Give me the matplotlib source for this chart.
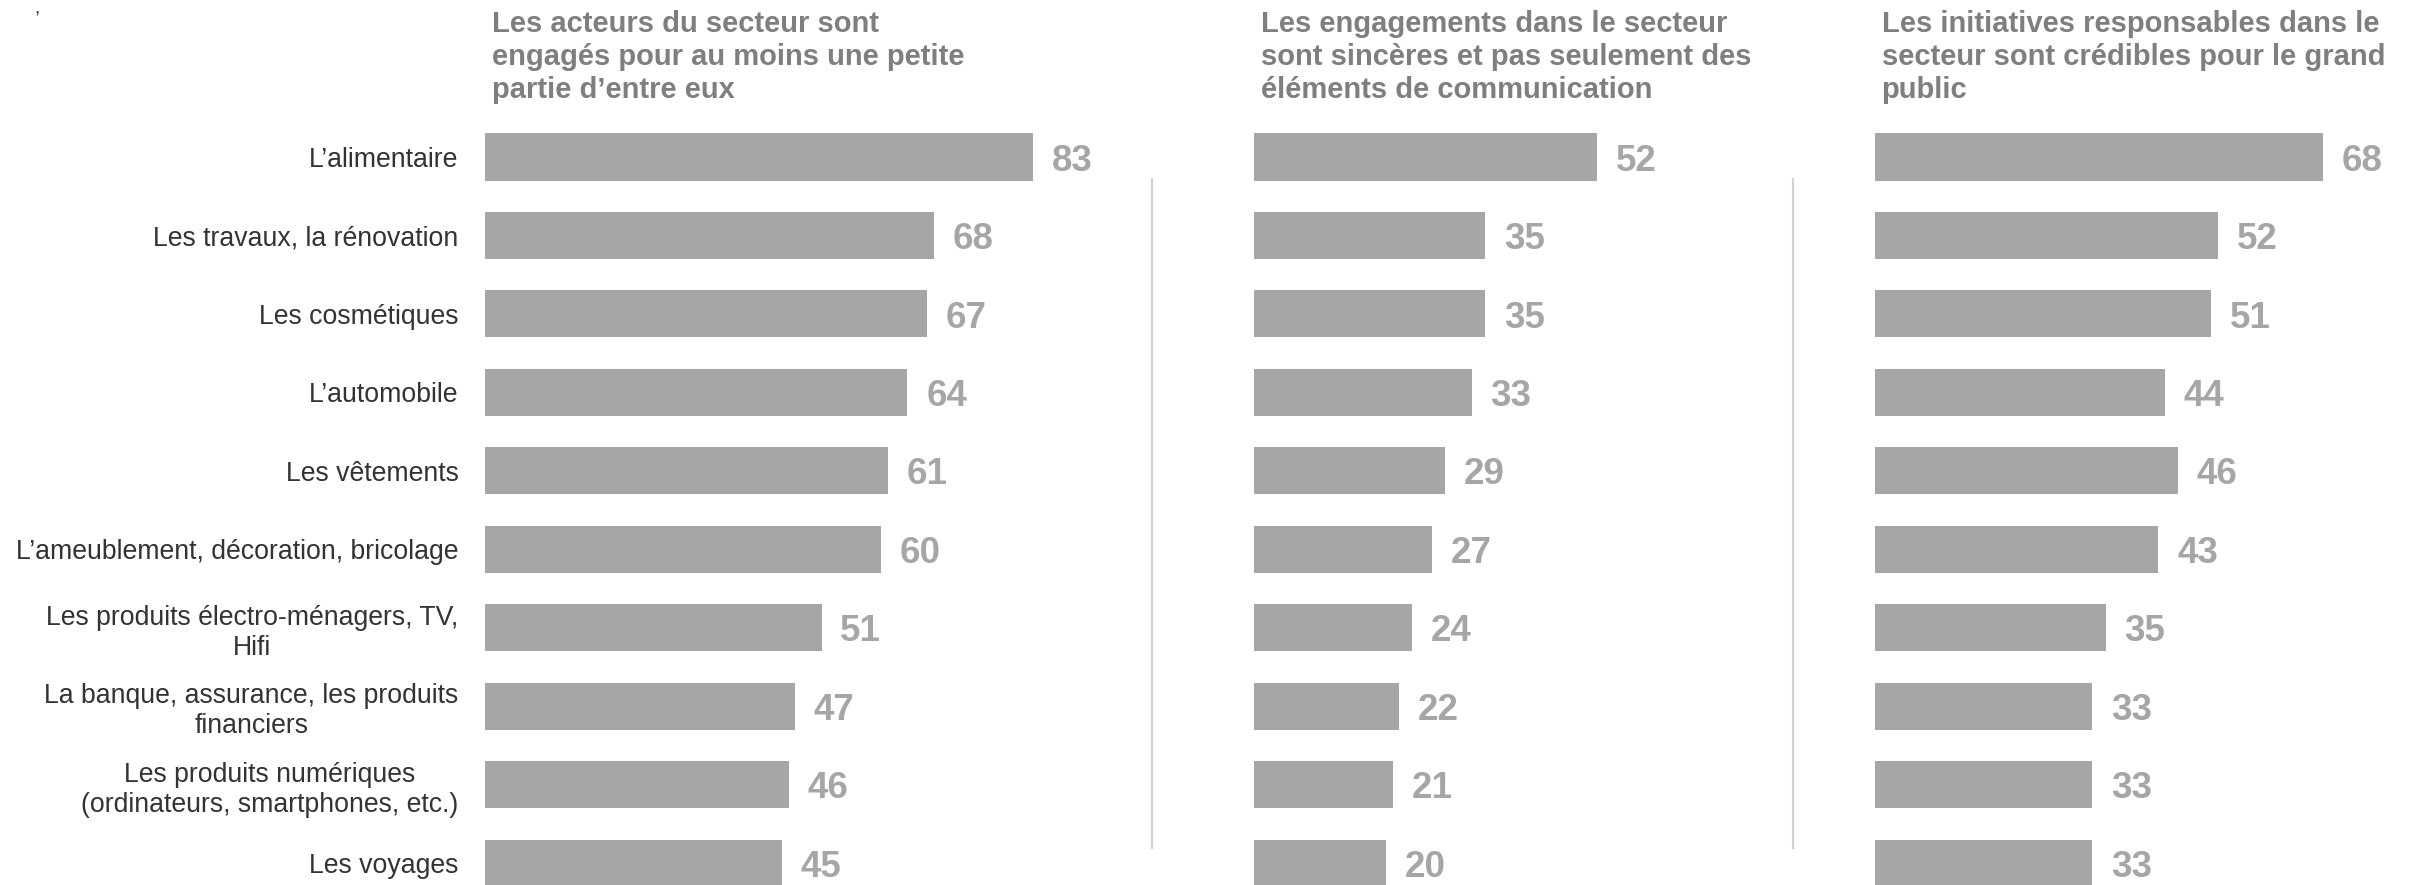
import matplotlib
matplotlib.use("Agg")
import matplotlib.pyplot as plt
from matplotlib.lines import Line2D

plt.rcParams['font.family'] = ['Liberation Sans', 'DejaVu Sans']

categories = [
    "L’alimentaire",
    "Les travaux, la rénovation",
    "Les cosmétiques",
    "L’automobile",
    "Les vêtements",
    "L’ameublement, décoration, bricolage",
    "Les produits électro-ménagers, TV,\nHifi",
    "La banque, assurance, les produits\nfinanciers",
    "Les produits numériques\n(ordinateurs, smartphones, etc.)",
    "Les voyages",
]
engages = [83, 68, 67, 64, 61, 60, 51, 47, 46, 45]
sinceres = [52, 35, 35, 33, 29, 27, 24, 22, 21, 20]
credibles = [68, 52, 51, 44, 46, 43, 35, 33, 33, 33]

titles = [
    "Les acteurs du secteur sont\nengagés pour au moins une petite\npartie d’entre eux",
    "Les engagements dans le secteur\nsont sincères et pas seulement des\néléments de communication",
    "Les initiatives responsables dans le\nsecteur sont crédibles pour le grand\npublic",
]
series = [engages, sinceres, credibles]

W, H = 2413, 885
BAR = "#a6a6a6"
TITLE = "#7f7f7f"
LABEL = "#333333"

fig = plt.figure(figsize=(W / 100, H / 100), dpi=100)

px_per_unit = 6.6
row0, step = 157, 78.45
panel_left = [485, 1254, 1874.5]
panel_w = [640, 520, 535]

top_px = row0 - step / 2
ybottom = (H - row0) / step

for k, (left, pw, vals, title) in enumerate(zip(panel_left, panel_w, series, titles)):
    ax = fig.add_axes([left / W, 0, pw / W, (H - top_px) / H])
    y = list(range(len(vals)))
    ax.barh(y, vals, height=0.6, color=BAR)
    ax.set_xlim(0, pw / px_per_unit)
    ax.set_ylim(ybottom, -0.5)
    for yi, v in zip(y, vals):
        ax.annotate(str(v), (v, yi), xytext=(13.5, -3), textcoords="offset points",
                    va="center", ha="left", fontsize=26.5, fontweight="bold",
                    color=BAR, annotation_clip=False)
    for s in ax.spines.values():
        s.set_visible(False)
    ax.set_xticks([])
    if k == 0:
        ax.set_yticks(y)
        ax.set_yticklabels(categories, fontsize=19.2, color=LABEL,
                           multialignment="center", linespacing=1.2)
        ax.tick_params(axis="y", length=0, pad=19)
    else:
        ax.set_yticks([])
    fig.text((left + 7) / W, 1 - 10 / H, title, ha="left", va="top",
             fontsize=21, fontweight="bold", color=TITLE, linespacing=1.23)

for x in [1152, 1793]:
    fig.add_artist(Line2D([x / W, x / W], [1 - 179 / H, 1 - 848 / H],
                          color="#d0d0d0", lw=1.5))

fig.text(34 / W, 1 - 1 / H, ",", ha="left", va="top", fontsize=14, color=LABEL)

fig.savefig("out.png", dpi=100)
